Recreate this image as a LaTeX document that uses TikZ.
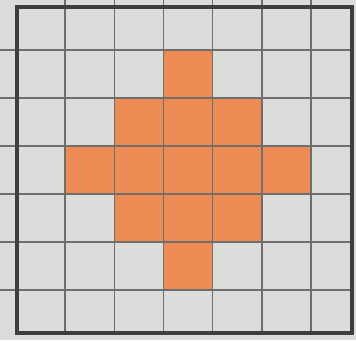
\documentclass[tikz,border=0pt]{standalone}
\usepackage{tikz}
\definecolor{paper}{RGB}{220,220,218}
\definecolor{cellfill}{RGB}{236,140,84}
\definecolor{gridline}{RGB}{110,110,108}
\definecolor{frame}{RGB}{62,62,60}

\begin{document}
\begin{tikzpicture}[x=1pt, y=-1pt]
  \def\cw{49.2}
  \def\ch{48}
  \def\xo{15.8}
  \def\yo{2}
  \useasboundingbox (0,0) rectangle (356,340);
  % Paper
  \fill[paper] (0,0) rectangle (356,340);
  % Coloured cells
  \foreach \c/\r in {3/1, 2/2, 3/2, 4/2, 1/3, 2/3, 3/3, 4/3, 5/3, 2/4, 3/4, 4/4, 3/5}
    \fill[cellfill] ({\xo+\c*\cw},{\yo+\r*\ch}) rectangle ++(\cw,\ch);
  % Grid lines
  \foreach \i in {1,...,6} {
    \draw[gridline, line width=1.4pt] ({\xo+\i*\cw},0) -- ({\xo+\i*\cw},333);
    \draw[gridline, line width=1.4pt] (0,{\yo+\i*\ch}) -- (352,{\yo+\i*\ch});
  }
  % Frame
  \draw[frame, line width=4pt] (17,7) rectangle (352,333);
\end{tikzpicture}
\end{document}
